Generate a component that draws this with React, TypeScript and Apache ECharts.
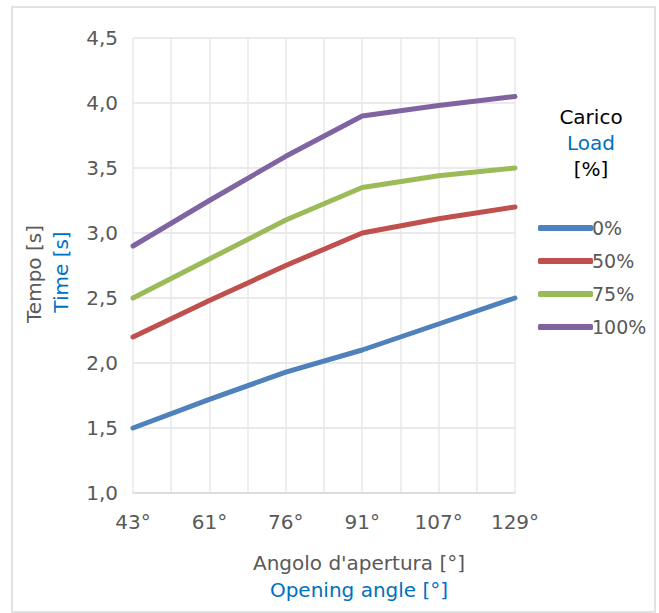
import React, { useEffect, useRef } from "react";
import * as echarts from "echarts";

const categories = ["43°", "61°", "76°", "91°", "107°", "129°"];
const seriesNames = ["0%", "50%", "75%", "100%"];
const load0 = [1.5, 1.72, 1.93, 2.1, 2.3, 2.5];
const load50 = [2.2, 2.48, 2.75, 3.0, 3.11, 3.2];
const load75 = [2.5, 2.8, 3.1, 3.35, 3.44, 3.5];
const load100 = [2.9, 3.25, 3.59, 3.9, 3.98, 4.05];
const colors = ["#4F81BD", "#C0504D", "#9BBB59", "#8064A2"];

const FONT = "DejaVu Sans";
const GRAY = "#595959";
const BLUE = "#0070C0";

export default function App() {
  const ref = useRef<HTMLDivElement>(null);
  useEffect(() => {
    if (!ref.current) return;
    const chart = echarts.init(ref.current, undefined, { renderer: "svg" });
    const all = [load0, load50, load75, load100];
    chart.setOption({
      animation: false,
      backgroundColor: "#ffffff",
      textStyle: { fontFamily: FONT },
      grid: { left: 133, right: 144, top: 38, bottom: 120 },
      xAxis: {
        type: "value",
        min: 0,
        max: categories.length - 1,
        interval: 0.5,
        axisLine: { show: true, lineStyle: { color: "#d9d9d9", width: 1.5 } },
        axisTick: { show: false },
        splitLine: { show: true, lineStyle: { color: "#e8e8e8", width: 1.5 } },
        axisLabel: {
          color: GRAY,
          fontSize: 20,
          fontFamily: FONT,
          margin: 19,
          formatter: (v: number) =>
            Number.isInteger(v) ? categories[v] : "",
        },
      },
      yAxis: {
        type: "value",
        min: 1,
        max: 4.5,
        interval: 0.5,
        axisLine: { show: false },
        axisTick: { show: false },
        splitLine: { show: true, lineStyle: { color: "#e3e3e3", width: 1.5 } },
        axisLabel: {
          color: GRAY,
          fontSize: 20,
          fontFamily: FONT,
          margin: 15,
          formatter: (v: number) => v.toFixed(1).replace(".", ","),
        },
      },
      legend: {
        orient: "vertical",
        left: 533,
        top: 212,
        itemWidth: 55,
        itemHeight: 6,
        itemGap: 11,
        icon: "roundRect",
        textStyle: { color: GRAY, fontSize: 19, lineHeight: 22, fontFamily: FONT, padding: [0, 0, 0, -6] },
        data: seriesNames,
      },
      series: seriesNames.map((name, s) => ({
        name,
        type: "line",
        symbol: "none",
        smooth: false,
        color: colors[s],
        lineStyle: { width: 5, color: colors[s], cap: "round", join: "round" },
        data: all[s].map((v, i) => [i, v]),
      })),
      graphic: [
        {
          type: "rect",
          shape: { x: 12, y: 7, width: 643, height: 605 },
          style: { fill: "none", stroke: "#d9d9d9", lineWidth: 1.5 },
          silent: true,
        },
        {
          type: "text",
          x: 591,
          y: 117,
          style: { text: "Carico", fill: "#000000", fontSize: 20, fontFamily: FONT, align: "center", verticalAlign: "middle" },
        },
        {
          type: "text",
          x: 591,
          y: 143,
          style: { text: "Load", fill: BLUE, fontSize: 20, fontFamily: FONT, align: "center", verticalAlign: "middle" },
        },
        {
          type: "text",
          x: 591,
          y: 169,
          style: { text: "[%]", fill: "#000000", fontSize: 20, fontFamily: FONT, align: "center", verticalAlign: "middle" },
        },
        {
          type: "text",
          x: 359,
          y: 563,
          style: { text: "Angolo d'apertura [°]", fill: GRAY, fontSize: 20, fontFamily: FONT, align: "center", verticalAlign: "middle" },
        },
        {
          type: "text",
          x: 359,
          y: 590,
          style: { text: "Opening angle [°]", fill: BLUE, fontSize: 20, fontFamily: FONT, align: "center", verticalAlign: "middle" },
        },
        {
          type: "text",
          x: 34,
          y: 274,
          rotation: Math.PI / 2,
          style: { text: "Tempo [s]", fill: GRAY, fontSize: 20, fontFamily: FONT, align: "center", verticalAlign: "middle" },
        },
        {
          type: "text",
          x: 61,
          y: 272,
          rotation: Math.PI / 2,
          style: { text: "Time [s]", fill: BLUE, fontSize: 20, fontFamily: FONT, align: "center", verticalAlign: "middle" },
        },
      ],
    });
    return () => chart.dispose();
  }, []);
  return (
    <div
      ref={ref}
      style={{ position: "fixed", left: 0, top: 0, width: 659, height: 613 }}
    />
  );
}
